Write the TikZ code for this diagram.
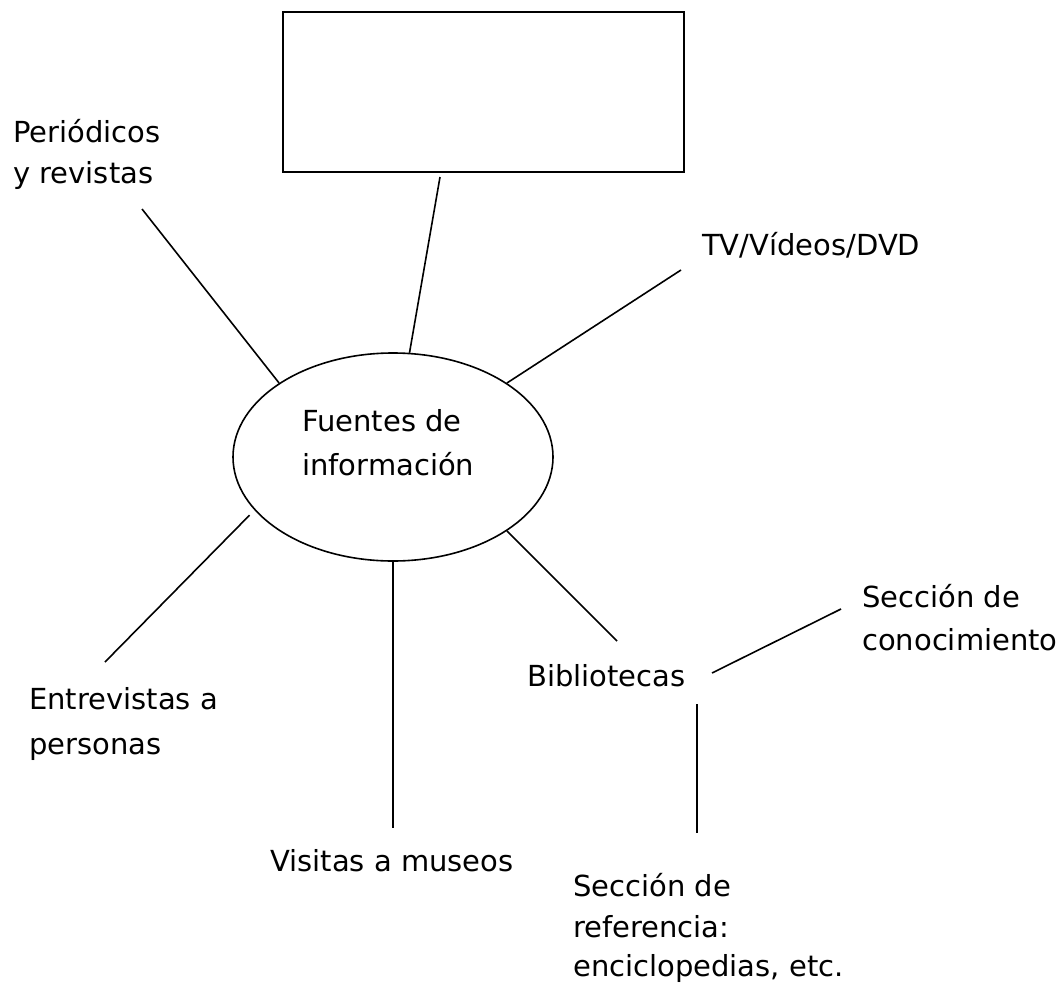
\documentclass[tikz,border=0pt]{standalone}
\usepackage{fontspec}
\setmainfont{DejaVu Sans}
\usetikzlibrary{shapes.geometric}
\tikzset{
  conn/.style={line width=1.6pt, black},
  lbl/.style={anchor=base west, inner sep=0pt, font=\fontsize{29}{43}\selectfont},
}
\begin{document}
\begin{tikzpicture}[x=1pt, y=-1pt]
\useasboundingbox (0,0) rectangle (1056,990);
% central shapes
\node[draw, line width=1.9pt, minimum width=401pt, minimum height=160pt, inner sep=0pt] (rect) at (483.5,92) {};
\node[draw, line width=1.6pt, ellipse, minimum width=320pt, minimum height=208pt, inner sep=0pt] (ell) at (393,457) {};
% labels
\node[lbl] (f1) at (302,431) {Fuentes de};
\node[lbl] (f2) at (302,475) {información};
\node[lbl] (p1) at (13,142) {Periódicos};
\node[lbl] (p2) at (13,183) {y revistas};
\node[lbl] (tv) at (702,255) {TV/Vídeos/DVD};
\node[lbl] (e1) at (29,709) {Entrevistas a};
\node[lbl] (e2) at (29,754) {personas};
\node[lbl] (vm) at (270,871) {Visitas a museos};
\node[lbl] (bib) at (527,686) {Bibliotecas};
\node[lbl] (sc1) at (862,607) {Sección de};
\node[lbl] (sc2) at (862,650) {conocimiento};
\node[lbl] (sr1) at (573,896) {Sección de};
\node[lbl] (sr2) at (573,937) {referencia:};
\node[lbl] (sr3) at (573,976) {enciclopedias, etc.};
% free ends
\coordinate (cRect) at (440,177);
\coordinate (cPer) at (142,209);
\coordinate (cTV) at (681,270);
\coordinate (cEnt) at (105,662);
\coordinate (cVis) at (393,828);
\coordinate (cBib) at (617,641);
\coordinate (cB1) at (712,673);
\coordinate (cCon) at (841,609);
\coordinate (cB2) at (697,704);
\coordinate (cRef) at (697,833);
% connectors
\draw[conn] (ell.81.3) -- (cRect);
\draw[conn] (ell.147.1) -- (cPer);
\draw[conn] (ell.33.2) -- (cTV);
\draw[conn, shorten <=7pt] (ell.201.6) -- (cEnt);
\draw[conn] (ell.south) -- (cVis);
\draw[conn] (ell.-33.2) -- (cBib);
\draw[conn] (cB1) -- (cCon);
\draw[conn] (cB2) -- (cRef);
\end{tikzpicture}
\end{document}
